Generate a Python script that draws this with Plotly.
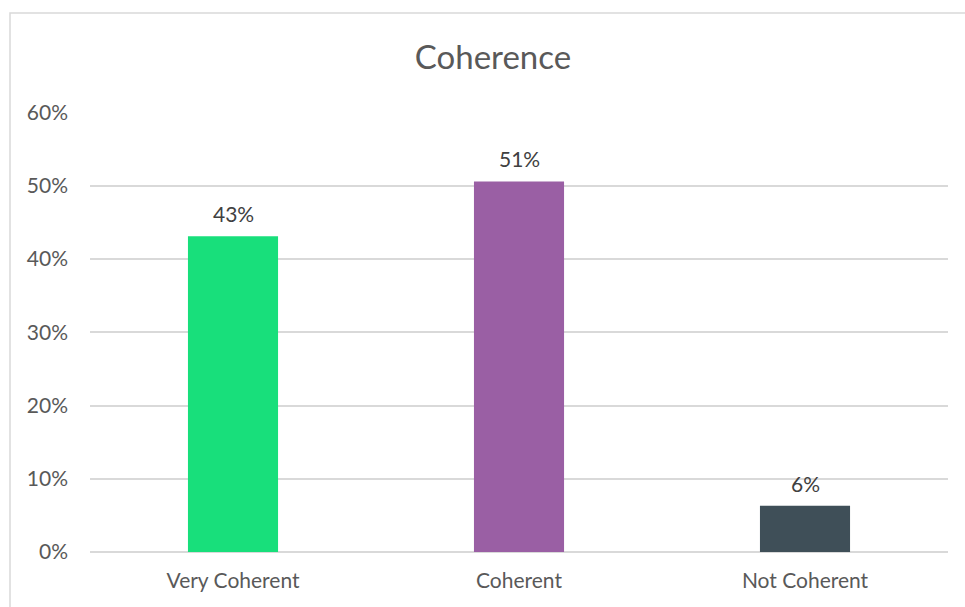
import plotly.graph_objects as go

categories = ["Very Coherent", "Coherent", "Not Coherent"]
values = [0.431, 0.506, 0.063]
colors = ["#18DF7B", "#9A5FA4", "#3F4F58"]
y_ticks = [0, 0.1, 0.2, 0.3, 0.4, 0.5, 0.6]
y_tick_labels = ["0%", "10%", "20%", "30%", "40%", "50%", "60%"]

W, H = 965, 607
L, R, T, B = 90, 17, 112, 55
pw, ph = W - L - R, H - T - B

font = "Lato, 'Open Sans', sans-serif"
txt = "#595959"

fig = go.Figure(go.Bar(
    x=categories, y=values, marker_color=colors, marker_line_width=0,
    hoverinfo="skip",
))

for c, v in zip(categories, values):
    fig.add_annotation(x=c, y=v, text=f"{round(v*100):.0f}%", showarrow=False,
                       yanchor="bottom", yshift=8,
                       font=dict(family=font, size=21, color="#404040"))

# outer chart border (clipped at right/bottom in the reference)
fig.add_shape(type="rect", xref="paper", yref="paper",
              x0=(10 - L) / pw, x1=(W + 20 - L) / pw,
              y0=-(B + 20) / ph, y1=(H - B - 13) / ph,
              line=dict(color="#D9D9D9", width=1.5), fillcolor="rgba(0,0,0,0)", layer="below")

fig.update_layout(
    width=W, height=H,
    margin=dict(l=L, r=R, t=T, b=B),
    paper_bgcolor="white", plot_bgcolor="white",
    title=dict(text="Coherence", x=493 / W, xanchor="center", y=1 - 57 / H, yanchor="middle",
               font=dict(family=font, size=33, color=txt)),
    bargap=0.685,
    showlegend=False,
    font=dict(family=font, color=txt, size=21),
)
fig.update_yaxes(range=[0, 0.6008], tickvals=y_ticks, ticktext=y_tick_labels,
                 showgrid=True, gridcolor="#D9D9D9", gridwidth=1.5,
                 zeroline=True, zerolinecolor="#D9D9D9", zerolinewidth=1.5,
                 showline=False, ticks="", ticklabelstandoff=21,
                 tickfont=dict(family=font, size=21, color=txt))
fig.update_xaxes(showgrid=False, showline=False, ticks="", ticklabelstandoff=14,
                 tickfont=dict(family=font, size=21, color=txt))

fig.write_html("out.html")
